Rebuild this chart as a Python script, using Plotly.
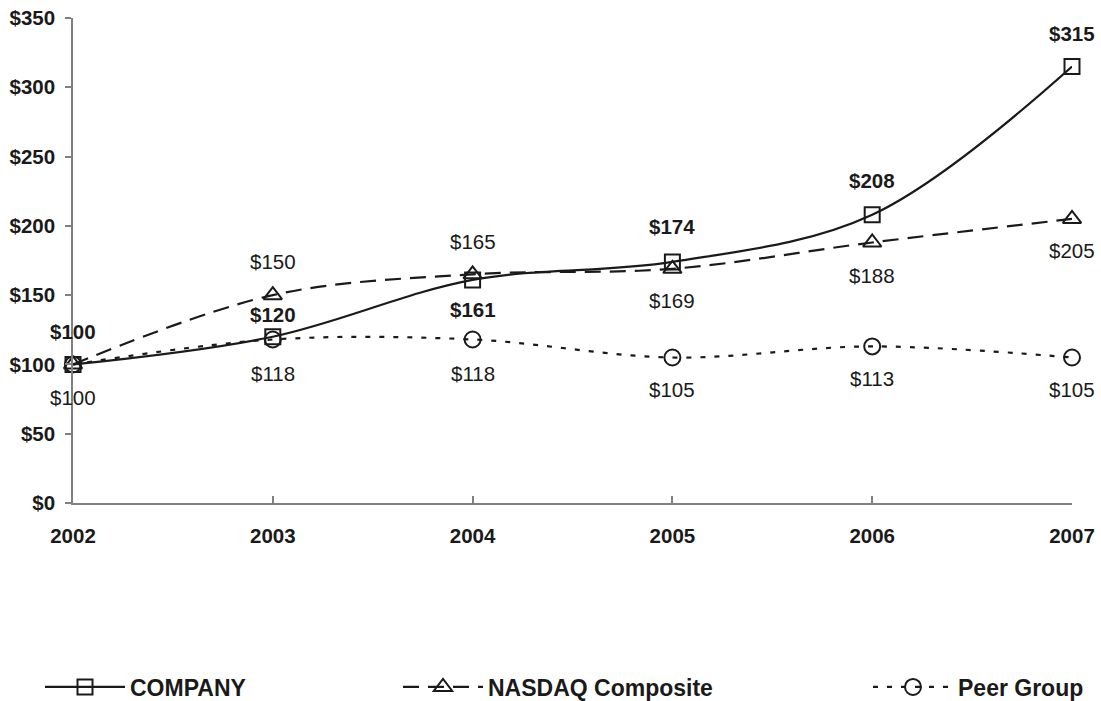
import plotly.graph_objects as go

years = [2002, 2003, 2004, 2005, 2006, 2007]
company = [100, 120, 161, 174, 208, 315]
nasdaq = [100, 150, 165, 169, 188, 205]
peer = [100, 118, 118, 105, 113, 105]
y_ticks = [0, 50, 100, 150, 200, 250, 300, 350]

# label placement (pixels, + is up); None = no label
company_shift = [33, 22, -30, 35, 34, 33]
nasdaq_shift = [None, 34, 33, -32, -33, -32]
peer_shift = [-33, -34, -34, -32, -32, -32]

INK = "#1a1a1a"
FONT = "Liberation Sans, Arial, sans-serif"

fig = go.Figure()

fig.add_trace(go.Scatter(
    x=years, y=company, name="COMPANY", mode="lines+markers", legend="legend",
    line=dict(color=INK, width=2.2, shape="spline"),
    marker=dict(symbol="square-open", size=15, color=INK, line=dict(width=2, color=INK)),
    cliponaxis=False,
))
fig.add_trace(go.Scatter(
    x=years, y=nasdaq, name="NASDAQ Composite", mode="lines+markers", legend="legend2",
    line=dict(color=INK, width=2.2, dash="16px,9px", shape="spline"),
    marker=dict(symbol="triangle-up-open", size=16, color=INK, line=dict(width=2, color=INK)),
    cliponaxis=False,
))
fig.add_trace(go.Scatter(
    x=years, y=peer, name="Peer Group", mode="lines+markers", legend="legend3",
    line=dict(color=INK, width=2.2, dash="5px,9px", shape="spline"),
    marker=dict(symbol="circle-open", size=16, color=INK, line=dict(width=2, color=INK)),
    cliponaxis=False,
))

annotations = []
def add_labels(values, shifts, bold):
    for x, v, s in zip(years, values, shifts):
        if s is None:
            continue
        txt = f"${v}"
        if bold:
            txt = f"<b>{txt}</b>"
        annotations.append(dict(
            x=x, y=v, xref="x", yref="y", text=txt, showarrow=False,
            yshift=s, font=dict(family=FONT, size=20.5, color=INK),
        ))

add_labels(company, company_shift, True)
add_labels(nasdaq, nasdaq_shift, False)
add_labels(peer, peer_shift, False)

def legend_style(xpx):
    return dict(
        orientation="h", xref="container", yref="container",
        x=xpx / 1101, y=1 - 687 / 701, xanchor="left", yanchor="middle",
        font=dict(family=FONT, size=23, color=INK, weight="bold"),
        itemwidth=80, bgcolor="rgba(0,0,0,0)",
    )

fig.update_layout(
    width=1101, height=701,
    margin=dict(l=73, r=29, t=18, b=198, autoexpand=False),
    plot_bgcolor="white", paper_bgcolor="white",
    font=dict(family=FONT, size=20.5, color=INK),
    annotations=annotations,
    showlegend=True,
    legend=legend_style(40),
    legend2=legend_style(398),
    legend3=legend_style(868),
    xaxis=dict(
        range=[2002, 2007], tickvals=years, ticktext=[f"<b>{y}</b>" for y in years],
        showgrid=False, zeroline=False, showline=True, linecolor="#808080", linewidth=1.5,
        ticks="inside", ticklen=7, tickcolor="#808080", tickwidth=1.5,
        ticklabelstandoff=14, tickfont=dict(size=20.5, color=INK), automargin=False,
    ),
    yaxis=dict(
        range=[0, 350], tickvals=y_ticks, ticktext=[f"<b>${v}</b>" for v in y_ticks],
        showgrid=False, zeroline=False, showline=True, linecolor="#808080", linewidth=1.5,
        ticks="outside", ticklen=6, tickcolor="#808080", tickwidth=1.5,
        ticklabelstandoff=6, tickfont=dict(size=20.5, color=INK), automargin=False,
    ),
)

fig.write_html("out.html", config={"displayModeBar": False},
               post_script="document.body.style.margin='0';")
